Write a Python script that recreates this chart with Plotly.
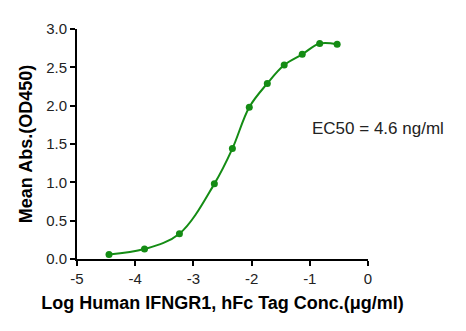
import plotly.graph_objects as go

log_conc = [-4.45, -3.84, -3.24, -2.64, -2.33, -2.04, -1.73, -1.44, -1.13, -0.83, -0.53]
mean_abs = [0.06, 0.13, 0.33, 0.98, 1.44, 1.98, 2.29, 2.53, 2.67, 2.81, 2.80]
x_ticks = [-5, -4, -3, -2, -1, 0]
x_tick_text = ["-5", "-4", "-3", "-2", "-1", "0"]
y_ticks = [0.0, 0.5, 1.0, 1.5, 2.0, 2.5, 3.0]
y_tick_text = ["0.0", "0.5", "1.0", "1.5", "2.0", "2.5", "3.0"]

green = "#148c14"
font = "Liberation Sans, Arial, sans-serif"

fig = go.Figure()
fig.add_trace(go.Scatter(
    x=log_conc, y=mean_abs, mode="lines",
    line=dict(color=green, width=2, shape="spline", smoothing=1.0),
    hoverinfo="skip", showlegend=False))
fig.add_trace(go.Scatter(
    x=log_conc, y=mean_abs, mode="markers",
    marker=dict(color=green, size=7), showlegend=False))

fig.add_annotation(x=1.034, y=0.567, xref="paper", yref="paper",
                   text="EC50 = 4.6 ng/ml", showarrow=False,
                   font=dict(family=font, size=17, color="#222"),
                   xanchor="center", yanchor="middle")

axis_common = dict(showgrid=False, zeroline=False, showline=True,
                   linecolor="black", linewidth=2, ticks="outside",
                   tickwidth=2, ticklen=5, tickcolor="black",
                   tickfont=dict(family=font, size=15, color="#222"))

fig.update_xaxes(range=[-5, 0], tickvals=x_ticks, ticktext=x_tick_text,
                 title=dict(text="<b>Log Human IFNGR1, hFc Tag Conc.(μg/ml)</b>",
                            font=dict(family=font, size=18, color="black"), standoff=10),
                 **axis_common)
fig.update_yaxes(range=[0, 3], tickvals=y_ticks, ticktext=y_tick_text,
                 title=dict(text="<b>Mean Abs.(OD450)</b>",
                            font=dict(family=font, size=18, color="black"), standoff=9),
                 **axis_common)

fig.update_layout(width=466, height=331,
                  margin=dict(l=77, r=98, t=29, b=72),
                  plot_bgcolor="white", paper_bgcolor="white")

fig.write_html("out.html")
